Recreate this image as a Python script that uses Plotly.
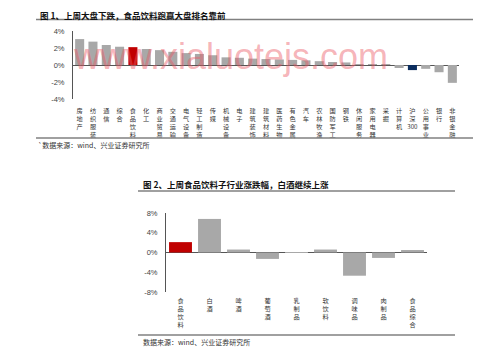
import plotly.graph_objects as go

# page has an 8px body margin, so the figure is sized to fit inside the window
OFF = 8
W, H = 499 - OFF, 356 - OFF

# ---------- data ----------
cats1 = ["房地产", "纺织服装", "通信", "综合", "食品饮料", "化工", "商业贸易", "交通运输",
         "电气设备", "轻工制造", "传媒", "机械设备", "电子", "建筑装饰", "建筑材料", "医药生物",
         "有色金属", "汽车", "农林牧渔", "国防军工", "钢铁", "休闲服务", "家用电器", "采掘",
         "计算机", "沪深300", "公用事业", "银行", "非银金融"]
vals1 = [3.05, 2.75, 2.35, 2.15, 2.1, 1.88, 1.75, 1.55, 1.4, 1.3, 1.15, 0.9, 0.85,
         0.75, 0.7, 0.65, 0.6, 0.55, 0.45, 0.35, 0.3, 0.1, 0.05, 0.03,
         -0.35, -0.6, -0.45, -0.85, -2.1]

cats2 = ["食品饮料", "白酒", "啤酒", "葡萄酒", "乳制品", "软饮料", "调味品", "肉制品", "食品综合"]
vals2 = [2.1, 6.8, 0.6, -1.3, 0.1, 0.6, -4.7, -1.1, 0.5]

yticks1 = [-4, -2, 0, 2, 4]
yticks2 = [-8, -4, 0, 4, 8]

title1 = "图 1、上周大盘下跌，食品饮料跑赢大盘排名靠前"
title2 = "图 2、上周食品饮料子行业涨跌幅，白酒继续上涨"
source1 = "`数据来源：wind、兴业证券研究所"
source2 = "数据来源：wind、兴业证券研究所"
watermark = "www.xialuotejs.com"

GREY = "#A8A8A8"
RED = "#C00000"
NAVY = "#0B2D5E"


def color_for(c, highlight):
    if c == "食品饮料":
        return RED
    if c == "沪深300" and highlight:
        return NAVY
    return GREY


def vert(s):
    # stack characters vertically (keep digits together)
    parts, buf = [], ""
    for ch in s:
        if ch.isdigit():
            buf += ch
        else:
            if buf:
                parts.append(buf)
                buf = ""
            parts.append(ch)
    if buf:
        parts.append(buf)
    return "<br>".join(parts)


def px(y):
    return 1 - (y - OFF) / H


def pxx(x):
    return (x - OFF) / W


fig = go.Figure()
fig.add_trace(go.Bar(x=cats1, y=vals1, marker_color=[color_for(c, True) for c in cats1],
                     marker_line_width=0, width=0.68, xaxis="x", yaxis="y", showlegend=False))
fig.add_trace(go.Bar(x=cats2, y=vals2, marker_color=[color_for(c, False) for c in cats2],
                     marker_line_width=0, width=0.79, xaxis="x2", yaxis="y2", showlegend=False))

cjk = "Noto Sans CJK SC"
tickfont_x = dict(family=cjk, size=6.2, color="#333333")
tickfont_y = dict(family="Liberation Sans, Arial", size=7.5, color="#444444")

common_x = dict(type="category", tickangle=0, tickfont=tickfont_x, showline=False,
                showgrid=False, ticks="", automargin=False)
common_y = dict(tickfont=tickfont_y, showline=True, linecolor="#555555", linewidth=1,
                showgrid=False, zeroline=True, zerolinecolor="#555555", zerolinewidth=1,
                ticks="", ticklabelstandoff=6, automargin=False)

fig.update_layout(
    width=W, height=H, autosize=False,
    margin=dict(l=0, r=0, t=0, b=0, autoexpand=False),
    paper_bgcolor="white", plot_bgcolor="white",
    xaxis=dict(domain=[pxx(73), pxx(459)], anchor="y", ticklabelstandoff=7,
               tickvals=cats1, ticktext=[vert(c) for c in cats1], **common_x),
    yaxis=dict(domain=[px(99), px(31)], anchor="x", range=[-4, 4],
               tickvals=yticks1, ticktext=[f"{v}%" for v in yticks1], **common_y),
    xaxis2=dict(domain=[pxx(166), pxx(427)], anchor="y2", ticklabelstandoff=4,
                tickvals=cats2, ticktext=[vert(c) for c in cats2], **common_x),
    yaxis2=dict(domain=[px(292), px(213)], anchor="x2", range=[-8, 8],
                tickvals=yticks2, ticktext=[f"{v}%" for v in yticks2], **common_y),
)

line_col = "#808080"
shapes = [
    dict(type="line", xref="paper", yref="paper", x0=pxx(36), x1=pxx(473), y0=px(19.5), y1=px(19.5),
         line=dict(color=line_col, width=1.5)),
    dict(type="line", xref="paper", yref="paper", x0=pxx(36), x1=pxx(473), y0=px(138), y1=px(138),
         line=dict(color=line_col, width=1.5)),
    dict(type="line", xref="paper", yref="paper", x0=pxx(138), x1=pxx(455), y0=px(191), y1=px(191),
         line=dict(color=line_col, width=1.5)),
    dict(type="line", xref="paper", yref="paper", x0=pxx(138), x1=pxx(455), y0=px(335), y1=px(335),
         line=dict(color=line_col, width=1.5)),
]
fig.update_layout(shapes=shapes)

ann = [
    dict(text=f"<b>{title1}</b>", x=pxx(39), y=px(8), xref="paper", yref="paper",
         xanchor="left", yanchor="top", showarrow=False, borderpad=0,
         font=dict(family=cjk, size=8.5, color="#111111")),
    dict(text=f"<b>{title2}</b>", x=pxx(142), y=px(184), xref="paper", yref="paper",
         xanchor="left", yanchor="middle", showarrow=False, borderpad=0,
         font=dict(family=cjk, size=8.5, color="#111111")),
    dict(text=source1, x=pxx(36), y=px(145), xref="paper", yref="paper",
         xanchor="left", yanchor="middle", showarrow=False,
         font=dict(family=cjk, size=7, color="#333333")),
    dict(text=source2, x=pxx(141), y=px(342), xref="paper", yref="paper",
         xanchor="left", yanchor="middle", showarrow=False,
         font=dict(family=cjk, size=7, color="#333333")),
    dict(text=watermark, x=pxx(230), y=px(56), xref="paper", yref="paper",
         xanchor="center", yanchor="middle", showarrow=False,
         font=dict(family="Liberation Sans, Arial", size=36, color="rgba(235,90,100,0.45)")),
]
fig.update_layout(annotations=ann)

fig.write_html("out.html")
